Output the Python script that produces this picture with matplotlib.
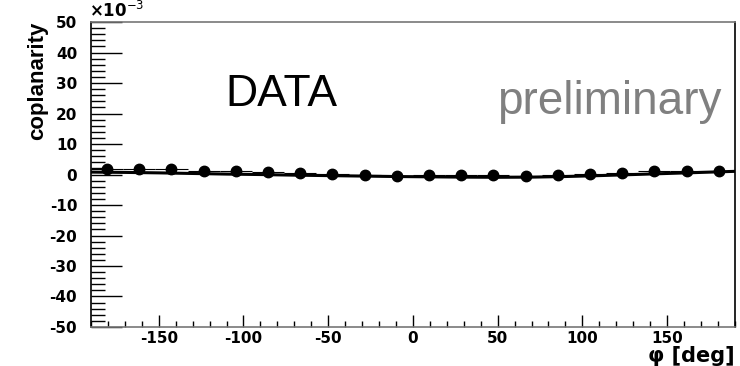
import matplotlib.pyplot as plt
from matplotlib.ticker import MultipleLocator

plt.rcParams['axes.unicode_minus'] = False

# bin centres (deg) and measured coplanarity (x1e-3)
phi = [-180.5, -161.5, -142.5, -123.5, -104.5, -85.5, -66.5, -47.5, -28.5, -9.5,
       9.5, 28.5, 47.5, 66.5, 85.5, 104.5, 123.5, 142.5, 161.5, 180.5]
copl = [1.8, 1.8, 1.8, 1.15, 1.2, 0.9, 0.4, 0.15, -0.05, -0.4,
        -0.05, 0.0, -0.3, -0.5, -0.05, 0.3, 0.5, 1.0, 1.0, 1.2]
copl_err = [0.4] * len(phi)
bin_half = 9.5

# fitted curve
fit_phi = [-190, -170, -150, -130, -110, -90, -70, -50, -30, -10,
           10, 30, 50, 70, 90, 110, 130, 150, 170, 190]
fit_val = [0.8, 0.7, 0.55, 0.35, 0.15, 0.0, -0.2, -0.35, -0.5, -0.65,
           -0.75, -0.85, -0.9, -0.85, -0.65, -0.35, 0.0, 0.35, 0.7, 1.05]

fig = plt.figure(figsize=(7.4, 3.66), dpi=100)
ax = fig.add_axes([0.123, 0.1066, 0.870, 0.833])

ax.errorbar(phi, copl, xerr=bin_half, yerr=copl_err, fmt='o', color='black',
            markersize=7.5, elinewidth=0.8, capsize=0, zorder=3)
ax.plot(fit_phi, fit_val, color='black', lw=2.2, zorder=4)

ax.set_xlim(-190, 190)
ax.set_ylim(-50, 50)

ax.xaxis.set_major_locator(MultipleLocator(50))
ax.xaxis.set_minor_locator(MultipleLocator(10))
ax.yaxis.set_major_locator(MultipleLocator(10))
ax.yaxis.set_minor_locator(MultipleLocator(2))
ax.tick_params(axis='x', which='major', direction='in', length=9, width=1, top=False, pad=3)
ax.tick_params(axis='x', which='minor', direction='in', length=4.5, width=1, top=False)
ax.tick_params(axis='y', which='major', direction='in', length=22, width=1, right=False, pad=10)
ax.tick_params(axis='y', which='minor', direction='in', length=10, width=1, right=False)

for lab in ax.get_xticklabels() + ax.get_yticklabels():
    lab.set_fontfamily('DejaVu Sans')
    lab.set_fontweight('bold')
    lab.set_fontsize(11)

for side in ['top', 'bottom']:
    ax.spines[side].set_color('#777777')
    ax.spines[side].set_linewidth(1.2)
for side in ['left', 'right']:
    ax.spines[side].set_color('black')
    ax.spines[side].set_linewidth(1.2)

ax.set_xlabel('\u03c6 [deg]', loc='right', fontsize=15, fontweight='bold',
              family='DejaVu Sans', labelpad=0)
ax.set_ylabel('coplanarity', loc='top', fontsize=16, fontweight='bold',
              family=['Liberation Sans Narrow', 'Liberation Sans'], labelpad=1)

fig.text(89 / 740, 1 - 11 / 366, '\u00d710$^{-3}$', fontsize=12, fontweight='bold',
         family='DejaVu Sans', ha='left', va='center')

ax.text(225 / 740, 1 - 106 / 366, 'DATA', transform=fig.transFigure,
        fontsize=32, family='Liberation Sans', color='black', ha='left', va='baseline')
ax.text(497 / 740, 1 - 114 / 366, 'preliminary', transform=fig.transFigure,
        fontsize=33, family='Liberation Sans', color='#808080', ha='left', va='baseline')

fig.savefig('out.png', dpi=100)
